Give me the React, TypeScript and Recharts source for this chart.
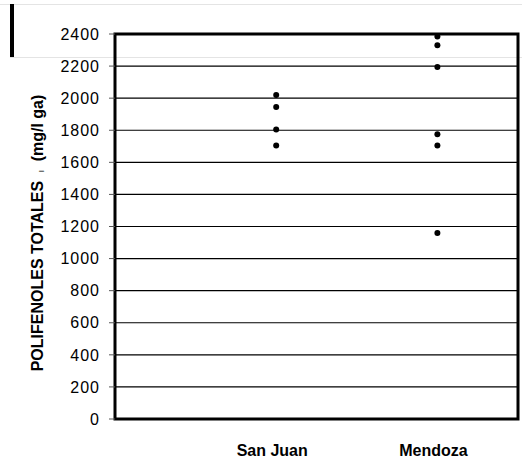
import React from 'react';
import { ScatterChart, Scatter, XAxis, YAxis, CartesianGrid, ReferenceArea, Label } from 'recharts';

const categories = ['San Juan', 'Mendoza'];
const sanJuanValues = [2020, 1945, 1805, 1705];
const mendozaValues = [2385, 2330, 2195, 1775, 1705, 1160];
const yTicks = [0, 200, 400, 600, 800, 1000, 1200, 1400, 1600, 1800, 2000, 2200, 2400];

const seriesValues = [sanJuanValues, mendozaValues];
const points = seriesValues.flatMap((vals, i) => vals.map(v => ({ x: i + 1, y: v })));

const FONT = 'Arial, "Liberation Sans", Helvetica, sans-serif';

const YTitle = () => (
  <text
    x={0}
    y={0}
    transform="translate(43, 233) rotate(-90)"
    textAnchor="middle"
    fontFamily={FONT}
    fontWeight="bold"
    fontSize={16}
    fill="#000"
    style={{ whiteSpace: 'pre' }}
  >
    {'POLIFENOLES TOTALES  '}<tspan fontSize={6}>|</tspan>{'  (mg/l ga)'}
  </text>
);

const Dot = (props: any) => {
  const { cx, cy } = props;
  if (typeof cx !== 'number' || typeof cy !== 'number') return null;
  return <circle cx={cx} cy={cy} r={3} fill="#000" />;
};

export default function App() {
  return (
    <div style={{ position: 'absolute', top: 0, left: 0, width: 522, height: 459, background: '#fff' }}>
      {/* leftover frame marks from the original figure */}
      <div style={{ position: 'absolute', left: 0, top: 4, width: 522, height: 1, background: '#e4e4e4' }} />
      <div style={{ position: 'absolute', left: 10, top: 57, width: 512, height: 1, background: '#e4e4e4' }} />
      <div style={{ position: 'absolute', left: 10, top: 4, width: 4, height: 53, background: '#000' }} />
      <ScatterChart
        width={522}
        height={459}
        margin={{ top: 34, right: 4, bottom: 0, left: 0 }}
        style={{ position: 'absolute', top: 0, left: 0 }}
      >
        <CartesianGrid vertical={false} stroke="#000" strokeWidth={1.2} />
        <XAxis
          type="number"
          dataKey="x"
          domain={[0, 2.5]}
          ticks={[1, 2]}
          tickFormatter={(v: number) => categories[v - 1]}
          height={40}
          axisLine={false}
          tickLine={false}
          tickMargin={20}
          tick={{ fill: '#000', fontFamily: FONT, fontWeight: 'bold', fontSize: 16, dx: -4 }}
        />
        <YAxis
          type="number"
          dataKey="y"
          domain={[0, 2400]}
          ticks={yTicks}
          width={115}
          axisLine={false}
          tickSize={6}
          tickMargin={9}
          tickLine={{ stroke: '#555' }}
          tick={{ fill: '#000', fontFamily: FONT, fontSize: 16, letterSpacing: 1 }}
        >
          <Label content={<YTitle />} />
        </YAxis>
        <ReferenceArea x1={0} x2={2.5} y1={0} y2={2400} fill="none" stroke="#000" strokeWidth={3} ifOverflow="visible" />
        <Scatter data={points} fill="#000" shape={<Dot />} isAnimationActive={false} />
      </ScatterChart>
    </div>
  );
}
